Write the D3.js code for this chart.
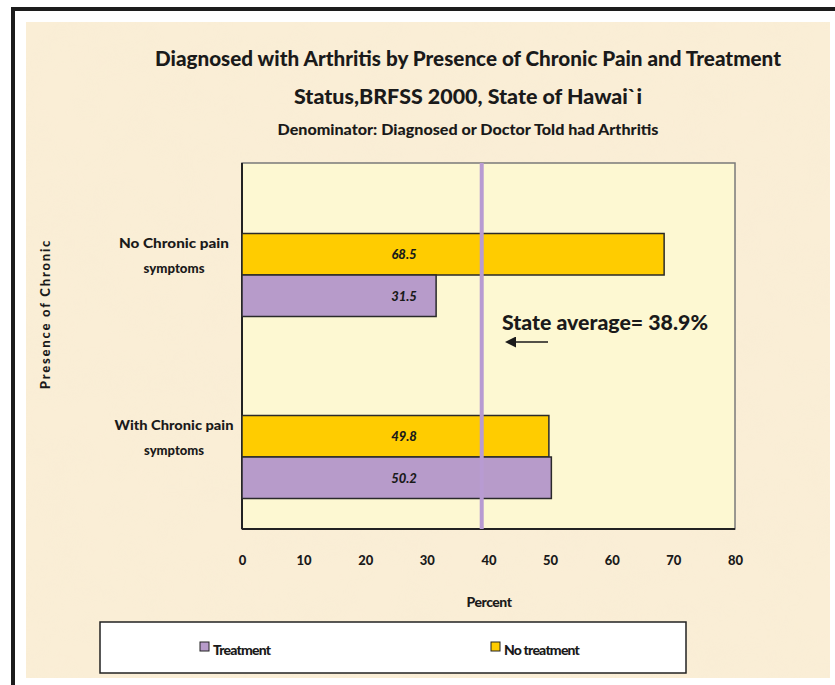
<!DOCTYPE html>
<html>
<head>
<meta charset="utf-8">
<script src="https://cdn.jsdelivr.net/npm/d3@7"></script>
<style>
  body { margin: 0; background: #fff; }
  text { font-family: Lato, "DejaVu Sans", sans-serif; font-weight: 900; fill: #1a1a1a; }
</style>
</head>
<body>
<div id="chart"></div>
<script>
// data
var categories = ["No Chronic pain symptoms", "With Chronic pain symptoms"];
var categoryLines = [["No Chronic pain", "symptoms"], ["With Chronic pain", "symptoms"]];
var seriesNames = ["No treatment", "Treatment"];
var noTreatment = [68.5, 49.8];
var treatment = [31.5, 50.2];
var xTicks = [0, 10, 20, 30, 40, 50, 60, 70, 80];
var stateAverage = 38.9;

var colors = {"No treatment": "#ffcc00", "Treatment": "#b79bca"};

var W = 835, H = 685;
var plot = {left: 242, right: 735, top: 163, bottom: 529};

var svg = d3.select("#chart")
  .append("svg")
    .attr("width", W)
    .attr("height", H);

// parchment texture
var defs = svg.append("defs");
var f = defs.append("filter").attr("id", "paper").attr("x", 0).attr("y", 0).attr("width", "100%").attr("height", "100%");
f.append("feTurbulence").attr("type", "fractalNoise").attr("baseFrequency", 0.025).attr("numOctaves", 3).attr("seed", 4);
f.append("feColorMatrix").attr("type", "matrix")
  .attr("values", "0 0 0 0 0.94  0 0 0 0 0.84  0 0 0 0 0.66  0 0 0 1.1 -0.4");

// frame
svg.append("rect").attr("x", 11).attr("y", 7).attr("width", W - 11).attr("height", 4).attr("fill", "#1c1c1c");
svg.append("rect").attr("x", 11).attr("y", 7).attr("width", 4).attr("height", H - 7).attr("fill", "#1c1c1c");
svg.append("rect").attr("x", 26).attr("y", 22).attr("width", 804).attr("height", 656).attr("fill", "#faeed6");
svg.append("rect").attr("x", 26).attr("y", 22).attr("width", 804).attr("height", 656).attr("filter", "url(#paper)").attr("opacity", 0.55);

// titles
var titles = [
  {t: "Diagnosed with Arthritis by Presence of Chronic Pain and Treatment", y: 66, size: 21, len: 626},
  {t: "Status,BRFSS 2000, State of Hawai`i", y: 104, size: 21, len: 348},
  {t: "Denominator: Diagnosed or Doctor Told had Arthritis", y: 135, size: 15, len: 381}
];
svg.selectAll(".title").data(titles).enter().append("text")
  .attr("class", "title")
  .attr("x", 468).attr("y", function(d) { return d.y; })
  .attr("text-anchor", "middle")
  .attr("font-size", function(d) { return d.size; })
  .attr("textLength", function(d) { return d.len; })
  .attr("lengthAdjust", "spacingAndGlyphs")
  .text(function(d) { return d.t; });

// scales
var x = d3.scaleLinear().domain([0, 80]).range([plot.left, plot.right]);
var y0 = d3.scaleBand().domain(categories).range([184, 548]);
var y1 = d3.scaleBand().domain(seriesNames).range([0, 83]);

// plot area
svg.append("rect")
  .attr("x", plot.left).attr("y", plot.top)
  .attr("width", plot.right - plot.left).attr("height", plot.bottom - plot.top)
  .attr("fill", "#fdf8d2").attr("stroke", "#7a7a7a").attr("stroke-width", 1.5);
svg.append("line").attr("x1", plot.left).attr("x2", plot.left).attr("y1", plot.top).attr("y2", plot.bottom)
  .attr("stroke", "#222").attr("stroke-width", 2);
svg.append("line").attr("x1", plot.left).attr("x2", plot.right).attr("y1", plot.bottom).attr("y2", plot.bottom)
  .attr("stroke", "#222").attr("stroke-width", 2);

// bars
var rows = [];
categories.forEach(function(c, i) {
  rows.push({cat: c, s: "No treatment", v: noTreatment[i]});
  rows.push({cat: c, s: "Treatment", v: treatment[i]});
});

function barY(d) { return y0(d.cat) + y0.bandwidth() / 2 - 41.5 + y1(d.s); }

svg.selectAll(".bar").data(rows).enter().append("rect")
  .attr("class", "bar")
  .attr("x", x(0))
  .attr("y", barY)
  .attr("width", function(d) { return x(d.v) - x(0); })
  .attr("height", y1.bandwidth())
  .attr("fill", function(d) { return colors[d.s]; })
  .attr("stroke", "#2a2a2a").attr("stroke-width", 1.5);

// state average line
svg.append("line")
  .attr("x1", x(stateAverage)).attr("x2", x(stateAverage))
  .attr("y1", plot.top).attr("y2", plot.bottom)
  .attr("stroke", "#b89bd2").attr("stroke-width", 4);

// value labels
svg.selectAll(".val").data(rows).enter().append("text")
  .attr("class", "val")
  .attr("x", 404)
  .attr("y", function(d) { return barY(d) + y1.bandwidth() / 2 + 5; })
  .attr("text-anchor", "middle")
  .attr("font-size", 13)
  .attr("font-style", "italic")
  .text(function(d) { return d.v.toFixed(1); });

// category labels
var lineLens = [[110, 61], [119, 60]];
categories.forEach(function(c, i) {
  var cy = y0(c) + y0.bandwidth() / 2 - 20;
  categoryLines[i].forEach(function(line, j) {
    svg.append("text").attr("text-anchor", "middle").attr("font-size", 14)
      .attr("x", 174).attr("y", cy - 7 + j * 25)
      .attr("textLength", lineLens[i][j]).attr("lengthAdjust", "spacingAndGlyphs")
      .text(line);
  });
});

// x axis tick labels
var xAxis = svg.append("g")
  .attr("transform", "translate(0," + 554 + ")")
  .call(d3.axisBottom(x).tickValues(xTicks).tickSize(0).tickPadding(0));
xAxis.select(".domain").remove();
xAxis.selectAll("text")
  .attr("font-size", 13)
  .attr("font-family", "Lato, sans-serif")
  .attr("font-weight", 900)
  .attr("fill", "#1a1a1a")
  .attr("dy", "0.85em");

svg.append("text").attr("x", 489).attr("y", 607).attr("text-anchor", "middle")
  .attr("font-size", 14).attr("letter-spacing", -0.5).text("Percent");

svg.append("text")
  .attr("transform", "translate(50,314) rotate(-90)")
  .attr("text-anchor", "middle")
  .attr("font-size", 13)
  .attr("letter-spacing", 1.8)
  .text("Presence of Chronic");

// annotation
svg.append("text").attr("x", 502).attr("y", 330)
  .attr("font-size", 20).attr("textLength", 206).attr("lengthAdjust", "spacingAndGlyphs")
  .text("State average= 38.9%");
defs.append("marker").attr("id", "arrow").attr("viewBox", "0 0 10 10")
  .attr("refX", 0).attr("refY", 5).attr("markerWidth", 16).attr("markerHeight", 11)
  .attr("markerUnits", "userSpaceOnUse").attr("orient", "auto")
  .append("path").attr("d", "M0,0 L10,5 L0,10 Z").attr("fill", "#1a1a1a");
svg.append("line").attr("x1", 548).attr("x2", 516).attr("y1", 342).attr("y2", 342)
  .attr("stroke", "#1a1a1a").attr("stroke-width", 1.5)
  .attr("marker-end", "url(#arrow)");

// legend
var legend = svg.append("g");
legend.append("rect").attr("x", 100).attr("y", 622).attr("width", 586).attr("height", 51)
  .attr("fill", "#fff").attr("stroke", "#222").attr("stroke-width", 1.5);
var legendItems = [{s: "Treatment", x: 200}, {s: "No treatment", x: 491}];
legendItems.forEach(function(d) {
  legend.append("rect").attr("x", d.x).attr("y", 642).attr("width", 9).attr("height", 9)
    .attr("fill", colors[d.s]).attr("stroke", "#222").attr("stroke-width", 1);
  legend.append("text").attr("x", d.x + 13).attr("y", 655).attr("font-size", 14)
    .attr("letter-spacing", -0.8).text(d.s);
});
</script>
</body>
</html>
